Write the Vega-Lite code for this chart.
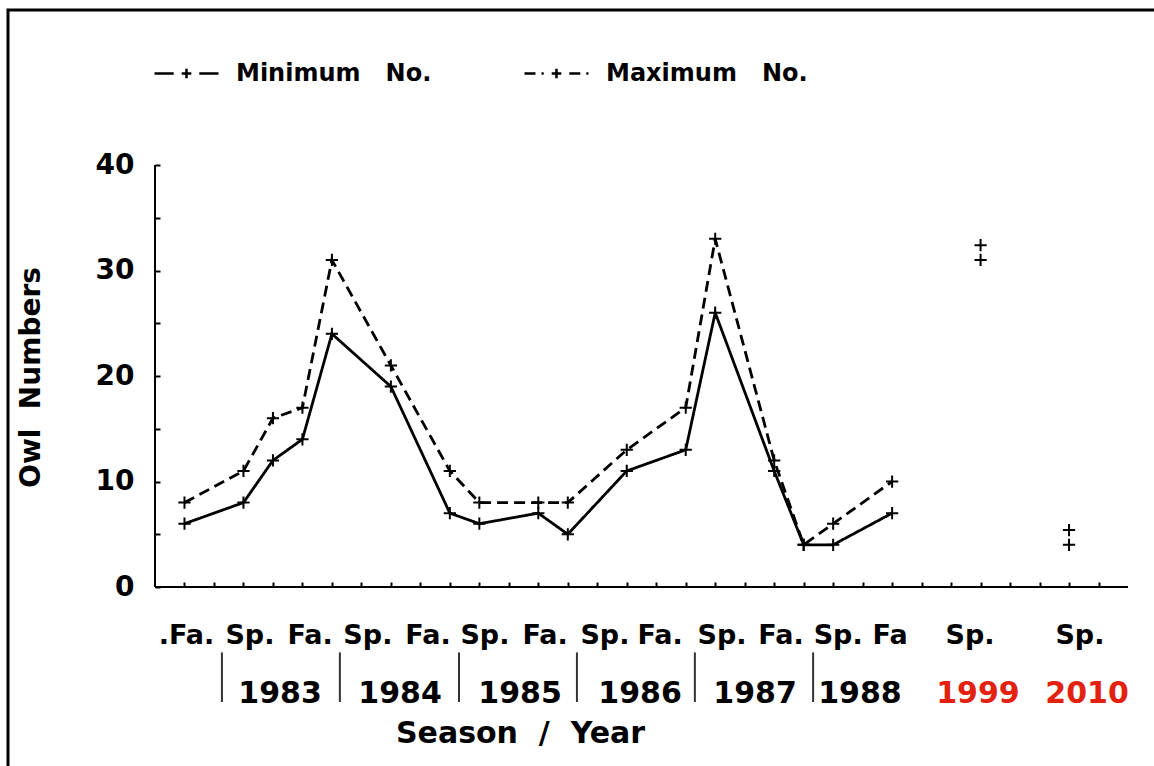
{
  "$schema": "https://vega.github.io/schema/vega-lite/v6.json",
  "width": 1154,
  "height": 764,
  "autosize": {"type": "none"},
  "padding": {"left": 8, "top": 10, "right": -8, "bottom": -8},
  "background": "white",
  "config": {
    "view": {"stroke": "black", "strokeWidth": 3},
    "font": "DejaVu Sans",
    "axis": {"grid": false}
  },
  "datasets": {
    "owls": [
      {"x": 1, "series": "Minimum No.", "value": 6}, {"x": 1, "series": "Maximum No.", "value": 8},
      {"x": 3, "series": "Minimum No.", "value": 8}, {"x": 3, "series": "Maximum No.", "value": 11},
      {"x": 4, "series": "Minimum No.", "value": 12}, {"x": 4, "series": "Maximum No.", "value": 16},
      {"x": 5, "series": "Minimum No.", "value": 14}, {"x": 5, "series": "Maximum No.", "value": 17},
      {"x": 6, "series": "Minimum No.", "value": 24}, {"x": 6, "series": "Maximum No.", "value": 31},
      {"x": 8, "series": "Minimum No.", "value": 19}, {"x": 8, "series": "Maximum No.", "value": 21},
      {"x": 10, "series": "Minimum No.", "value": 7}, {"x": 10, "series": "Maximum No.", "value": 11},
      {"x": 11, "series": "Minimum No.", "value": 6}, {"x": 11, "series": "Maximum No.", "value": 8},
      {"x": 13, "series": "Minimum No.", "value": 7}, {"x": 13, "series": "Maximum No.", "value": 8},
      {"x": 14, "series": "Minimum No.", "value": 5}, {"x": 14, "series": "Maximum No.", "value": 8},
      {"x": 16, "series": "Minimum No.", "value": 11}, {"x": 16, "series": "Maximum No.", "value": 13},
      {"x": 18, "series": "Minimum No.", "value": 13}, {"x": 18, "series": "Maximum No.", "value": 17},
      {"x": 19, "series": "Minimum No.", "value": 26}, {"x": 19, "series": "Maximum No.", "value": 33},
      {"x": 21, "series": "Minimum No.", "value": 11}, {"x": 21, "series": "Maximum No.", "value": 12},
      {"x": 22, "series": "Minimum No.", "value": 4}, {"x": 22, "series": "Maximum No.", "value": 4},
      {"x": 23, "series": "Minimum No.", "value": 4}, {"x": 23, "series": "Maximum No.", "value": 6},
      {"x": 25, "series": "Minimum No.", "value": 7}, {"x": 25, "series": "Maximum No.", "value": 10},
      {"x": 28, "series": "Minimum No.", "value": 31}, {"x": 28, "series": "Maximum No.", "value": 32.4},
      {"x": 31, "series": "Minimum No.", "value": 4}, {"x": 31, "series": "Maximum No.", "value": 5.4}
    ],
    "seasons": [
      {"x": 1.07, "label": ".Fa."}, {"x": 3.22, "label": "Sp."}, {"x": 5.26, "label": "Fa."},
      {"x": 7.22, "label": "Sp."}, {"x": 9.26, "label": "Fa."}, {"x": 11.19, "label": "Sp."},
      {"x": 13.23, "label": "Fa."}, {"x": 15.26, "label": "Sp."}, {"x": 17.13, "label": "Fa."},
      {"x": 19.23, "label": "Sp."}, {"x": 21.23, "label": "Fa."}, {"x": 23.17, "label": "Sp."},
      {"x": 24.93, "label": "Fa"}, {"x": 27.64, "label": "Sp."}, {"x": 31.37, "label": "Sp."}
    ],
    "years": [
      {"x": 4.24, "label": "1983"}, {"x": 8.31, "label": "1984"}, {"x": 12.38, "label": "1985"},
      {"x": 16.45, "label": "1986"}, {"x": 20.35, "label": "1987"}, {"x": 23.91, "label": "1988"},
      {"x": 27.91, "label": "1999"}, {"x": 31.61, "label": "2010"}
    ],
    "separators": [
      {"x": 2.27}, {"x": 6.27}, {"x": 10.31}, {"x": 14.31}, {"x": 18.31}, {"x": 22.32}
    ],
    "axislines": [
      {"x": 0, "x2": 0, "y": 0, "y2": 40},
      {"x": 0, "x2": 33, "y": 0, "y2": 0}
    ]
  },
  "resolve": {"axis": {"x": "independent", "y": "independent"}},
  "layer": [
    {
      "data": {"name": "owls"},
      "transform": [{"filter": "datum.x < 27"}],
      "mark": {"type": "line", "color": "black", "strokeWidth": 2.8},
      "encoding": {
        "x": {
          "field": "x", "type": "quantitative",
          "scale": {"domain": [-4.9856, 34.153], "nice": false, "zero": false},
          "axis": {
            "orient": "bottom", "offset": -187, "values": [1,2,3,4,5,6,7,8,9,10,11,12,13,14,15,16,17,18,19,20,21,22,23,24,25,26,27,28,29,30,31,32],
            "tickSize": -5, "tickWidth": 2, "tickColor": "black", "labels": false, "domain": false,
            "title": "Season\u00a0\u00a0/\u00a0\u00a0Year", "titleFont": "DejaVu Sans", "titleFontWeight": "bold", "titleFontSize": 30, "titleColor": "black",
            "titleX": 512, "titleY": 146, "titleAlign": "center", "titleBaseline": "middle"
          }
        },
        "y": {
          "field": "value", "type": "quantitative",
          "scale": {"domain": [-17.725, 54.692], "nice": false, "zero": false},
          "axis": {
            "orient": "left", "offset": -147, "values": [0,5,10,15,20,25,30,35,40],
            "labelExpr": "datum.value % 10 === 0 ? datum.label : ''",
            "tickSize": -5, "tickWidth": 2, "tickColor": "black", "domain": false,
            "labelPadding": 26, "labelFont": "DejaVu Sans", "labelFontWeight": "bold", "labelFontSize": 28, "labelColor": "black",
            "title": "Owl\u00a0\u00a0Numbers", "titleFont": "DejaVu Sans", "titleFontWeight": "bold", "titleFontSize": 28, "titleColor": "black",
            "titleX": -124, "titleY": 367, "titleAngle": -90, "titleAlign": "center", "titleBaseline": "middle"
          }
        },
        "strokeDash": {
          "field": "series", "type": "nominal",
          "scale": {"domain": ["Minimum No.", "Maximum No."], "range": [[1, 0], [11, 6]]},
          "legend": {
            "orient": "none", "legendX": 145, "legendY": 30, "direction": "horizontal", "title": null,
            "symbolType": "M-1,0H-0.4M-0.15,0H0.15M0,-0.15V0.15M0.4,0H1",
            "symbolSize": 4096, "symbolStrokeWidth": 2.5, "symbolStrokeColor": "black",
            "labelFont": "DejaVu Sans", "labelFontWeight": "bold", "labelFontSize": 24, "labelColor": "black",
            "labelOffset": 16, "columnPadding": 87, "padding": 0, "gridAlign": "none", "labelLimit": 500,
            "labelExpr": "replace(datum.label, ' ', '\u00a0\u00a0\u00a0')"
          }
        }
      }
    },
    {
      "data": {"name": "owls"},
      "mark": {"type": "point", "shape": "M-1,0H1M0,-1V1", "filled": false, "stroke": "black", "strokeWidth": 2, "size": 150, "opacity": 1},
      "encoding": {
        "x": {"field": "x", "type": "quantitative", "scale": {"domain": [-4.9856, 34.153], "nice": false, "zero": false}, "axis": null},
        "y": {"field": "value", "type": "quantitative", "scale": {"domain": [-17.725, 54.692], "nice": false, "zero": false}, "axis": null}
      }
    },
    {
      "data": {"name": "axislines"},
      "mark": {"type": "rule", "color": "black", "strokeWidth": 2},
      "encoding": {
        "x": {"field": "x", "type": "quantitative", "scale": {"domain": [-4.9856, 34.153], "nice": false, "zero": false}, "axis": null},
        "x2": {"field": "x2"},
        "y": {"field": "y", "type": "quantitative", "scale": {"domain": [-17.725, 54.692], "nice": false, "zero": false}, "axis": null},
        "y2": {"field": "y2"}
      }
    },
    {
      "data": {"name": "separators"},
      "mark": {"type": "rule", "color": "#333333", "strokeWidth": 2},
      "encoding": {
        "x": {"field": "x", "type": "quantitative", "scale": {"domain": [-4.9856, 34.153], "nice": false, "zero": false}, "axis": null},
        "y": {"datum": -6.2, "type": "quantitative", "scale": {"domain": [-17.725, 54.692], "nice": false, "zero": false}, "axis": null},
        "y2": {"datum": -10.9}
      }
    },
    {
      "data": {"name": "seasons"},
      "mark": {"type": "text", "font": "DejaVu Sans", "fontWeight": "bold", "fontSize": 27, "color": "black", "align": "center", "baseline": "middle"},
      "encoding": {
        "x": {"field": "x", "type": "quantitative", "scale": {"domain": [-4.9856, 34.153], "nice": false, "zero": false}, "axis": null},
        "y": {"datum": -4.6, "type": "quantitative", "scale": {"domain": [-17.725, 54.692], "nice": false, "zero": false}, "axis": null},
        "text": {"field": "label"}
      }
    },
    {
      "data": {"name": "years"},
      "mark": {"type": "text", "font": "DejaVu Sans", "fontWeight": "bold", "fontSize": 30, "align": "center", "baseline": "middle"},
      "encoding": {
        "x": {"field": "x", "type": "quantitative", "scale": {"domain": [-4.9856, 34.153], "nice": false, "zero": false}, "axis": null},
        "y": {"datum": -10.1, "type": "quantitative", "scale": {"domain": [-17.725, 54.692], "nice": false, "zero": false}, "axis": null},
        "text": {"field": "label"},
        "color": {"condition": {"test": "datum.label == '1999' || datum.label == '2010'", "value": "#e3210f"}, "value": "black"}
      }
    }
  ]
}
